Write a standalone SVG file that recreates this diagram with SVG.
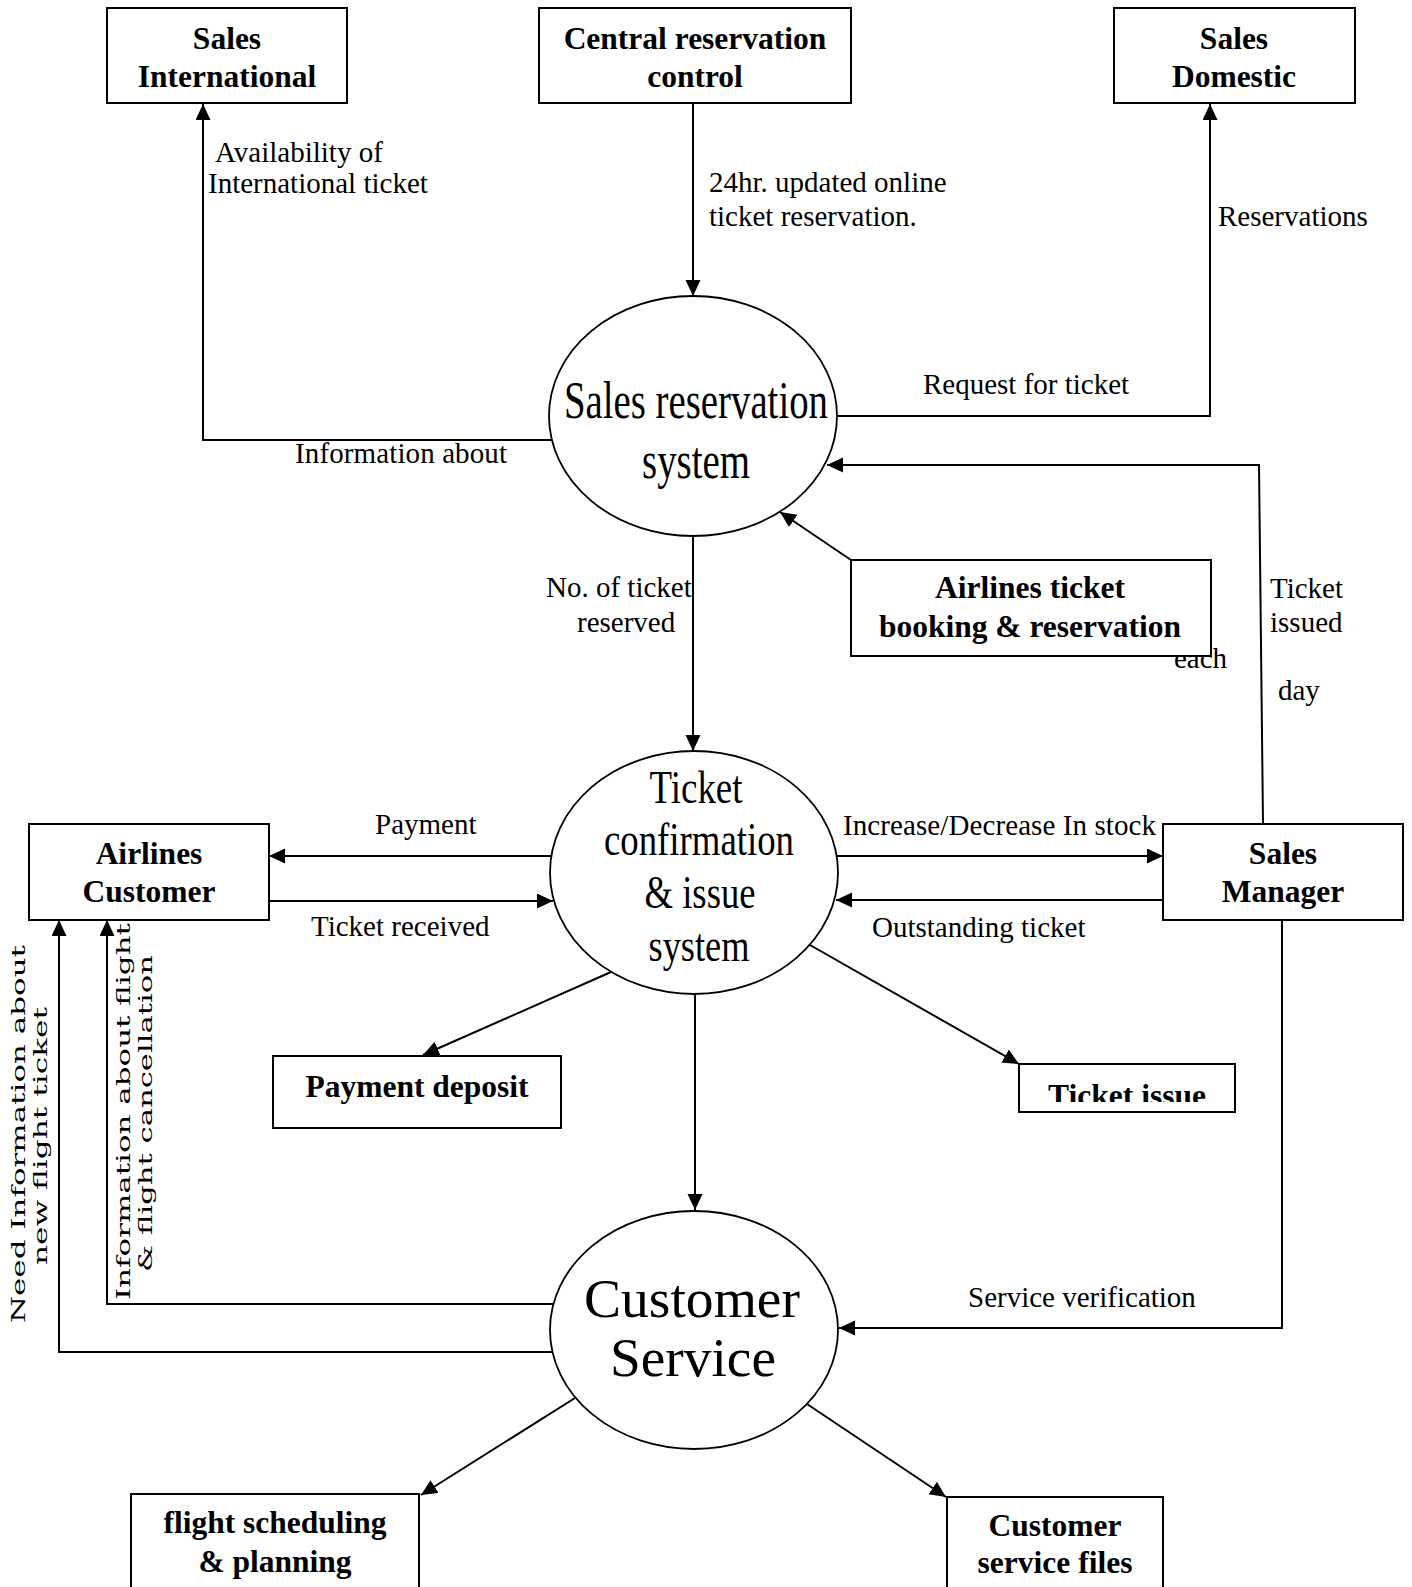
<svg xmlns="http://www.w3.org/2000/svg" width="1412" height="1587" viewBox="0 0 1412 1587">
  <style>
    .box { fill: #fff; stroke: #000; stroke-width: 2; }
    .proc { fill: #fff; stroke: #000; stroke-width: 1.8; }
    .flow { fill: none; stroke: #000; stroke-width: 2; marker-end: url(#ah); }
    .line { fill: none; stroke: #000; stroke-width: 2; }
    .bt { font-family: "Liberation Serif", "Times New Roman", serif; font-weight: bold; font-size: 31.5px; text-anchor: middle; fill: #000; }
    .pt { font-family: "Liberation Serif", "Times New Roman", serif; text-anchor: middle; fill: #000; }
    .lb { font-family: "Liberation Serif", "Times New Roman", serif; font-size: 29px; fill: #000; }
    .rt { font-family: "DejaVu Serif", "Liberation Serif", serif; font-size: 19px; fill: #000; }
  </style>
  <defs>
    <marker id="ah" markerUnits="userSpaceOnUse" markerWidth="18" markerHeight="16" refX="16" refY="7.5" orient="auto">
      <path d="M0,0 L16,7.5 L0,15 Z" fill="#000"/>
    </marker>
    <clipPath id="issueClip">
      <rect x="1019" y="1064" width="216" height="38"/>
    </clipPath>
  </defs>

  <rect width="1412" height="1587" fill="#fff"/>

  <!-- connectors -->
  <g id="connectors">
    <!-- Sales reservation system -> Sales International -->
    <polyline class="flow" points="552,440 203,440 203,104"/>
    <!-- Central reservation control -> Sales reservation system -->
    <line class="flow" x1="693" y1="103" x2="693" y2="296"/>
    <!-- Sales reservation system -> Sales Domestic -->
    <polyline class="flow" points="837,416 1210,416 1210,104"/>
    <!-- Sales Manager -> Sales reservation system -->
    <polyline class="flow" points="1263,824 1259,465 827,465"/>
    <!-- Airlines ticket booking -> Sales reservation system -->
    <line class="flow" x1="851" y1="560" x2="780" y2="512"/>
    <!-- Sales reservation system -> Ticket confirmation -->
    <line class="flow" x1="693" y1="536" x2="693" y2="751"/>
    <!-- Ticket confirmation <-> Airlines Customer -->
    <line class="flow" x1="551" y1="856" x2="269" y2="856"/>
    <line class="flow" x1="269" y1="901" x2="553" y2="901"/>
    <!-- Ticket confirmation <-> Sales Manager -->
    <line class="flow" x1="837" y1="856" x2="1163" y2="856"/>
    <line class="flow" x1="1163" y1="900" x2="836" y2="900"/>
    <!-- Ticket confirmation -> Payment deposit / Ticket issue -->
    <line class="flow" x1="611" y1="972" x2="423" y2="1055"/>
    <line class="flow" x1="810" y1="945" x2="1019" y2="1064"/>
    <!-- Ticket confirmation -> Customer Service -->
    <line class="flow" x1="695" y1="994" x2="695" y2="1210"/>
    <!-- Customer Service -> Airlines Customer -->
    <polyline class="flow" points="553,1304 107,1304 107,920"/>
    <polyline class="flow" points="552,1352 59,1352 59,920"/>
    <!-- Sales Manager -> Customer Service -->
    <polyline class="flow" points="1282,920 1282,1328 839,1328"/>
    <!-- Customer Service -> stores -->
    <line class="flow" x1="575" y1="1398" x2="421" y2="1495"/>
    <line class="flow" x1="807" y1="1404" x2="946" y2="1497"/>
  </g>

  <!-- connector labels -->
  <g id="labels">
    <text class="lb" x="215" y="162">Availability of</text>
    <text class="lb" x="208" y="193">International ticket</text>
    <text class="lb" x="295" y="463" textLength="212">Information about</text>
    <text class="lb" x="709" y="192">24hr. updated online</text>
    <text class="lb" x="709" y="226">ticket reservation.</text>
    <text class="lb" x="1218" y="226">Reservations</text>
    <text class="lb" x="923" y="394">Request for ticket</text>
    <text class="lb" x="546" y="597">No. of ticket</text>
    <text class="lb" x="577" y="632">reserved</text>
    <text class="lb" x="1270" y="598">Ticket</text>
    <text class="lb" x="1270" y="632">issued</text>
    <text class="lb" x="1174" y="668">each</text>
    <text class="lb" x="1278" y="700">day</text>
    <text class="lb" x="375" y="834">Payment</text>
    <text class="lb" x="311" y="936">Ticket received</text>
    <text class="lb" x="843" y="835" textLength="313">Increase/Decrease In stock</text>
    <text class="lb" x="872" y="937">Outstanding ticket</text>
    <text class="lb" x="968" y="1307">Service verification</text>
    <text class="rt" transform="translate(25,1323) rotate(-90)" textLength="378" lengthAdjust="spacingAndGlyphs">Need Information about</text>
    <text class="rt" transform="translate(47,1265) rotate(-90)" textLength="258" lengthAdjust="spacingAndGlyphs">new flight ticket</text>
    <text class="rt" transform="translate(130,1300) rotate(-90)" textLength="377" lengthAdjust="spacingAndGlyphs">Information about flight</text>
    <text class="rt" transform="translate(152,1272) rotate(-90)" textLength="317" lengthAdjust="spacingAndGlyphs">&amp; flight cancellation</text>
  </g>

  <!-- external entities and stores -->
  <g id="sales-international">
    <rect class="box" x="107" y="8" width="240" height="95"/>
    <text class="bt" x="227" y="49">Sales</text>
    <text class="bt" x="227" y="87">International</text>
  </g>
  <g id="central-reservation-control">
    <rect class="box" x="539" y="8" width="312" height="95"/>
    <text class="bt" x="695" y="49">Central reservation</text>
    <text class="bt" x="695" y="87">control</text>
  </g>
  <g id="sales-domestic">
    <rect class="box" x="1114" y="8" width="241" height="95"/>
    <text class="bt" x="1234" y="49">Sales</text>
    <text class="bt" x="1234" y="87">Domestic</text>
  </g>
  <g id="airlines-ticket-booking">
    <rect class="box" x="851" y="560" width="360" height="96"/>
    <text class="bt" x="1030" y="598">Airlines ticket</text>
    <text class="bt" x="1030" y="637">booking &amp; reservation</text>
  </g>
  <g id="airlines-customer">
    <rect class="box" x="29" y="824" width="240" height="96"/>
    <text class="bt" x="149" y="864">Airlines</text>
    <text class="bt" x="149" y="902">Customer</text>
  </g>
  <g id="sales-manager">
    <rect class="box" x="1163" y="824" width="240" height="96"/>
    <text class="bt" x="1283" y="864">Sales</text>
    <text class="bt" x="1283" y="902">Manager</text>
  </g>
  <g id="payment-deposit">
    <rect class="box" x="273" y="1056" width="288" height="72"/>
    <text class="bt" x="417" y="1097">Payment deposit</text>
  </g>
  <g id="ticket-issue">
    <rect class="box" x="1019" y="1064" width="216" height="48"/>
    <text class="bt" x="1127" y="1106" clip-path="url(#issueClip)">Ticket issue</text>
  </g>
  <g id="flight-scheduling">
    <rect class="box" x="131" y="1494" width="288" height="110"/>
    <text class="bt" x="275" y="1533">flight scheduling</text>
    <text class="bt" x="275" y="1572">&amp; planning</text>
  </g>
  <g id="customer-service-files">
    <rect class="box" x="947" y="1497" width="216" height="110"/>
    <text class="bt" x="1055" y="1536">Customer</text>
    <text class="bt" x="1055" y="1573">service files</text>
  </g>

  <!-- processes -->
  <g id="sales-reservation-system">
    <ellipse class="proc" cx="693" cy="416" rx="144" ry="120"/>
    <text class="pt" x="696" y="418" font-size="52" textLength="264" lengthAdjust="spacingAndGlyphs">Sales reservation</text>
    <text class="pt" x="696" y="478" font-size="52" textLength="108" lengthAdjust="spacingAndGlyphs">system</text>
  </g>
  <g id="ticket-confirmation">
    <ellipse class="proc" cx="694" cy="872.5" rx="144" ry="121.5"/>
    <text class="pt" x="696" y="803" font-size="46" textLength="93" lengthAdjust="spacingAndGlyphs">Ticket</text>
    <text class="pt" x="699" y="855" font-size="46" textLength="190" lengthAdjust="spacingAndGlyphs">confirmation</text>
    <text class="pt" x="700" y="908" font-size="46" textLength="111" lengthAdjust="spacingAndGlyphs">&amp; issue</text>
    <text class="pt" x="699" y="961" font-size="46" textLength="101" lengthAdjust="spacingAndGlyphs">system</text>
  </g>
  <g id="customer-service">
    <ellipse class="proc" cx="694" cy="1330" rx="144" ry="119"/>
    <text class="pt" x="692" y="1317" font-size="55" textLength="216" lengthAdjust="spacingAndGlyphs">Customer</text>
    <text class="pt" x="693" y="1376" font-size="55" textLength="166" lengthAdjust="spacingAndGlyphs">Service</text>
  </g>
</svg>
